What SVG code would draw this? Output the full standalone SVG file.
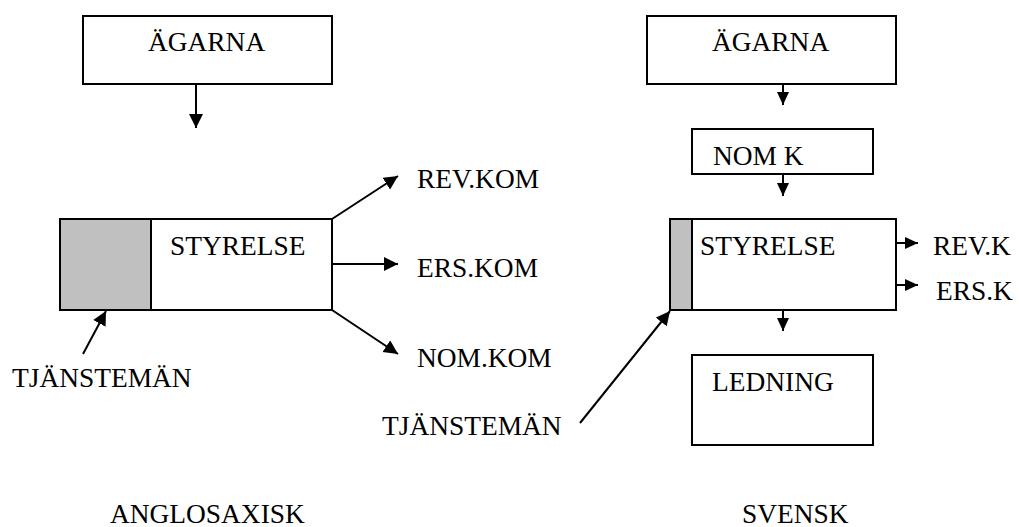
<svg xmlns="http://www.w3.org/2000/svg" width="1019" height="527" viewBox="0 0 1019 527">
<style>
.box{fill:#fff;stroke:#000;stroke-width:2}
.gray{fill:#c0c0c0;stroke:#000;stroke-width:2}
text{font-family:'Liberation Serif','Times New Roman',serif;font-size:27.4px;fill:#000}
.cl{fill:none;stroke:#000;stroke-width:2;marker-end:url(#aL)}
.cs{fill:none;stroke:#000;stroke-width:2;marker-end:url(#aS)}
</style>
<defs>
<marker id="aL" markerUnits="userSpaceOnUse" markerWidth="15" markerHeight="15" refX="14" refY="7" orient="auto" viewBox="0 0 15 15">
<path d="M0,0 L14,7 L0,14 z" fill="#000"/>
</marker>
<marker id="aS" markerUnits="userSpaceOnUse" markerWidth="14" markerHeight="13" refX="13" refY="6" orient="auto" viewBox="0 0 14 13">
<path d="M0,0 L13,6 L0,12 z" fill="#000"/>
</marker>
</defs>
<rect width="1019" height="527" fill="#fff"/>

<g id="connectors">
<path class="cl" d="M196,84 V128"/>
<path class="cl" d="M332,219 L398,176"/>
<path class="cl" d="M332,264 H398"/>
<path class="cl" d="M332,310 L398,354"/>
<path class="cl" d="M83,354 L106,311"/>
<path class="cs" d="M783,84 V105"/>
<path class="cs" d="M783,174 V196"/>
<path class="cs" d="M896,243 H918"/>
<path class="cs" d="M896,285 H918"/>
<path class="cs" d="M783,310 V331"/>
<path class="cl" d="M580,423 L670,311"/>
</g>

<g id="agarna-left">
<rect class="box" x="83" y="16" width="249" height="68"/>
<text x="148" y="51">ÄGARNA</text>
</g>
<g id="styrelse-left">
<rect class="box" x="60" y="219" width="272" height="91"/>
<rect class="gray" x="60" y="219" width="91" height="91"/>
<text x="170" y="255">STYRELSE</text>
</g>
<g id="revkom"><text x="417" y="188">REV.KOM</text></g>
<g id="erskom"><text x="417" y="277">ERS.KOM</text></g>
<g id="nomkom"><text x="417" y="367">NOM.KOM</text></g>
<g id="tjanste-left"><text x="12" y="387">TJÄNSTEMÄN</text></g>
<g id="anglo"><text x="110" y="523">ANGLOSAXISK</text></g>

<g id="agarna-right">
<rect class="box" x="647" y="16" width="249" height="68"/>
<text x="712" y="51">ÄGARNA</text>
</g>
<g id="nomk">
<rect class="box" x="692" y="129" width="181" height="45"/>
<text x="713" y="165">NOM K</text>
</g>
<g id="styrelse-right">
<rect class="box" x="670" y="219" width="226" height="91"/>
<rect class="gray" x="670" y="219" width="22" height="91"/>
<text x="700" y="255">STYRELSE</text>
</g>
<g id="revk"><text x="933" y="255">REV.K</text></g>
<g id="ersk"><text x="936" y="300">ERS.K</text></g>
<g id="ledning">
<rect class="box" x="692" y="355" width="181" height="90"/>
<text x="712" y="391">LEDNING</text>
</g>
<g id="tjanste-right"><text x="382" y="435">TJÄNSTEMÄN</text></g>
<g id="svensk"><text x="742" y="523">SVENSK</text></g>
</svg>
